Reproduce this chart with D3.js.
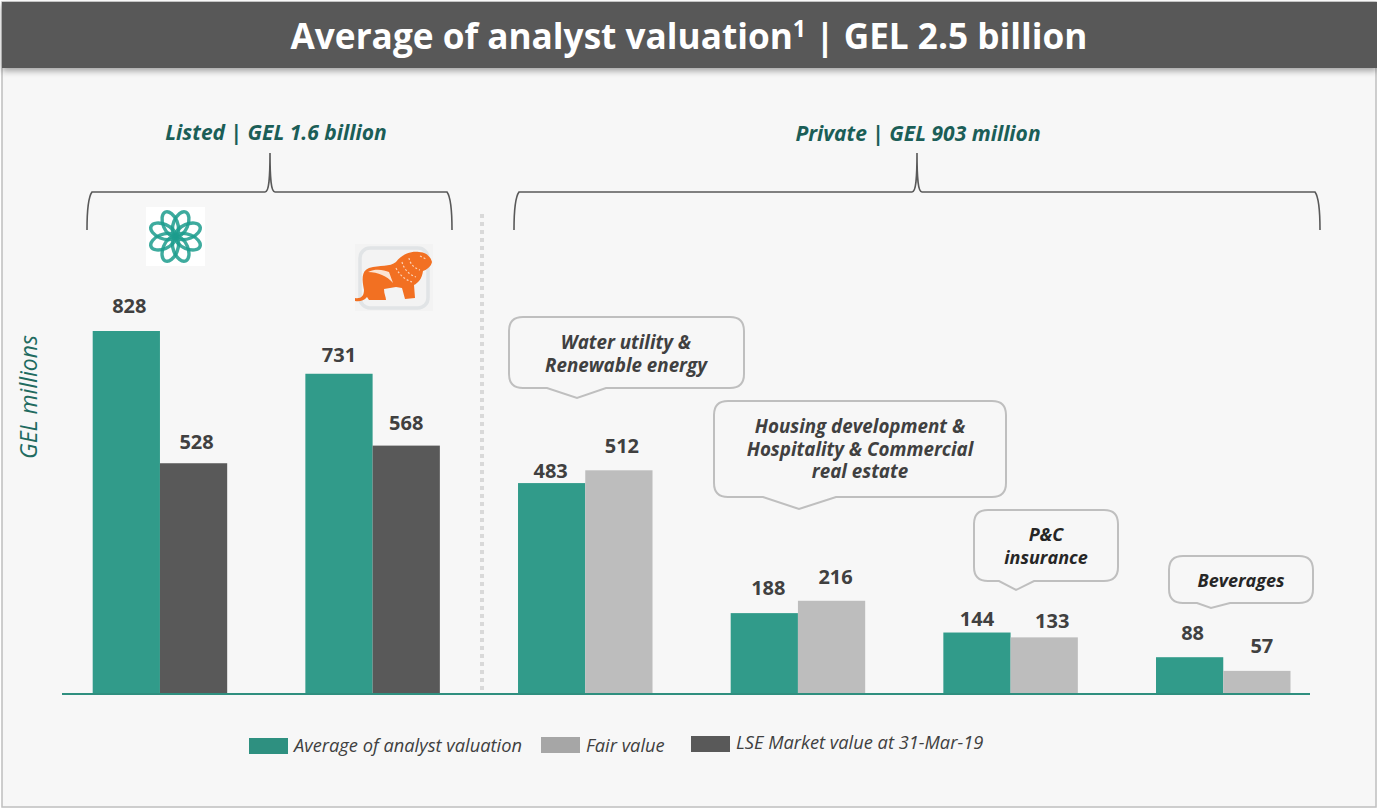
<!DOCTYPE html>
<html>
<head>
<meta charset="utf-8">
<script src="https://cdn.jsdelivr.net/npm/d3@7"></script>
<style>
  html, body { margin: 0; padding: 0; background: #fff; }
  svg { display: block; }
  text { font-family: "Open Sans", sans-serif; }
</style>
</head>
<body>
<div id="chart"></div>
<script>
// data
var categories = ["Listed A", "Listed B", "Water utility", "Housing", "P&C insurance", "Beverages"];
var analystValues = [828, 731, 483, 188, 144, 88];
var otherValues = [528, 568, 512, 216, 133, 57];
var otherSeries = ["market", "market", "fair", "fair", "fair", "fair"];

var legendLabels = ["Average of analyst valuation", "Fair value", "LSE Market value at 31-Mar-19"];

// label nudges, the original labels were placed by hand
var labelDx = [3, 3, 0, 0, -1, 3, 4, 4, 0, 8, 3, 5];
var labelDy = [18, 14, 12, 16, 5, 17, 18, 17, 7, 9, 17, 18];

var width = 1377, height = 809;
var teal = "#319b8a", grey = "#bdbdbd", dark = "#595959", green = "#1b5e57";

var svg = d3.select("#chart").append("svg")
    .attr("width", width)
    .attr("height", height);

var defs = svg.append("defs");
var shadow = defs.append("filter").attr("id", "barShadow")
    .attr("x", "-2%").attr("y", "-20%").attr("width", "104%").attr("height", "160%");
shadow.append("feDropShadow").attr("dx", 0).attr("dy", 3).attr("stdDeviation", 3)
    .attr("flood-color", "#000").attr("flood-opacity", 0.35);
defs.append("filter").attr("id", "soft")
    .append("feGaussianBlur").attr("stdDeviation", 0.7);

// panel
svg.append("rect")
    .attr("x", 2).attr("y", 2)
    .attr("width", 1374).attr("height", 805)
    .attr("fill", "#f7f7f7")
    .attr("stroke", "#bfbfbf")
    .attr("stroke-width", 1.5);

// title bar
svg.append("rect")
    .attr("x", 2).attr("y", 2)
    .attr("width", 1375).attr("height", 66)
    .attr("fill", dark)
    .attr("filter", "url(#barShadow)");

var title = svg.append("text")
    .attr("x", 689).attr("y", 49)
    .attr("text-anchor", "middle")
    .attr("fill", "#fff")
    .style("font-size", "35.2px")
    .style("font-weight", 700);
title.append("tspan").text("Average of analyst valuation");
title.append("tspan").text("1").attr("dy", -12).style("font-size", "23px");
title.append("tspan").text(" | GEL 2.5 billion").attr("dy", 12);

// scales
var x = d3.scaleBand()
    .domain(categories)
    .range([92.7, 1290.5])
    .paddingInner(0.3676);

var xSub = d3.scaleBand()
    .domain([0, 1])
    .range([0, x.bandwidth()]);

var y = d3.scaleLinear()
    .domain([0, 828])
    .range([696, 331]);

var baseY = 694;
var colors = { market: dark, fair: grey };

// flat list for the bars
var bars = [];
categories.forEach(function(c, i) {
    bars.push({ cat: c, sub: 0, value: analystValues[i], color: teal });
    bars.push({ cat: c, sub: 1, value: otherValues[i], color: colors[otherSeries[i]] });
});

// dotted separator
svg.append("line")
    .attr("x1", 482).attr("x2", 482)
    .attr("y1", 214).attr("y2", 692)
    .attr("stroke", "#d9d9d9")
    .attr("stroke-width", 4)
    .attr("stroke-dasharray", "4,4");

// bars
svg.selectAll(".bar")
    .data(bars)
    .enter()
    .append("rect")
      .attr("class", "bar")
      .attr("x", function(d) { return x(d.cat) + xSub(d.sub); })
      .attr("y", function(d) { return y(d.value); })
      .attr("width", xSub.bandwidth())
      .attr("height", function(d) { return baseY - y(d.value); })
      .attr("fill", function(d) { return d.color; });

// value labels
svg.selectAll(".value")
    .data(bars)
    .enter()
    .append("text")
      .attr("class", "value")
      .attr("x", function(d, i) { return x(d.cat) + xSub(d.sub) + xSub.bandwidth() / 2 + labelDx[i]; })
      .attr("y", function(d, i) { return y(d.value) - labelDy[i]; })
      .attr("text-anchor", "middle")
      .attr("fill", "#404040")
      .style("font-size", "20px")
      .style("font-weight", 700)
      .text(function(d) { return d.value; });

// baseline
svg.append("line")
    .attr("x1", 62).attr("x2", 1310)
    .attr("y1", baseY).attr("y2", baseY)
    .attr("stroke", "#2f8f7f")
    .attr("stroke-width", 2);

// y label
svg.append("text")
    .attr("transform", "translate(37,397) rotate(-90)")
    .attr("text-anchor", "middle")
    .attr("fill", "#1f6b60")
    .style("font-size", "23px")
    .style("font-style", "italic")
    .text("GEL millions");

// braces
function brace(x0, tip, x1) {
    var top = 153, mid = 192, end = 230;
    return "M" + x0 + "," + end +
        "C" + x0 + "," + (mid + 14) + " " + (x0 + 2) + "," + (mid + 4) + " " + (x0 + 5) + "," + mid +
        "L" + (tip - 5) + "," + mid +
        "C" + (tip - 1) + "," + mid + " " + tip + "," + (mid - 14) + " " + tip + "," + top +
        "C" + tip + "," + (mid - 14) + " " + (tip + 1) + "," + mid + " " + (tip + 5) + "," + mid +
        "L" + (x1 - 5) + "," + mid +
        "C" + (x1 - 2) + "," + (mid + 4) + " " + x1 + "," + (mid + 14) + " " + x1 + "," + end;
}
[[87, 270, 452], [514, 917, 1320]].forEach(function(b) {
    svg.append("path")
        .attr("d", brace(b[0], b[1], b[2]))
        .attr("fill", "none")
        .attr("stroke", dark)
        .attr("stroke-width", 1.6);
});

svg.append("text").attr("x", 276).attr("y", 140).attr("text-anchor", "middle")
    .attr("fill", green)
    .style("font-size", "21px").style("font-weight", 700).style("font-style", "italic")
    .text("Listed | GEL 1.6 billion");
svg.append("text").attr("x", 918).attr("y", 141).attr("text-anchor", "middle")
    .attr("fill", green)
    .style("font-size", "21px").style("font-weight", 700).style("font-style", "italic")
    .text("Private | GEL 903 million");

// callouts
function callout(x0, y0, x1, y1, t0, tipX, t1, tipY) {
    var r = 14;
    return "M" + (x0 + r) + "," + y0 +
        "L" + (x1 - r) + "," + y0 +
        "Q" + x1 + "," + y0 + " " + x1 + "," + (y0 + r) +
        "L" + x1 + "," + (y1 - r) +
        "Q" + x1 + "," + y1 + " " + (x1 - r) + "," + y1 +
        "L" + t1 + "," + y1 +
        "L" + tipX + "," + tipY +
        "L" + t0 + "," + y1 +
        "L" + (x0 + r) + "," + y1 +
        "Q" + x0 + "," + y1 + " " + x0 + "," + (y1 - r) +
        "L" + x0 + "," + (y0 + r) +
        "Q" + x0 + "," + y0 + " " + (x0 + r) + "," + y0 + "Z";
}
var callouts = [
    { box: [509, 317, 744, 388, 547, 577, 606, 398], lines: ["Water utility &", "Renewable energy"], cx: 626, y: 349, fill: "#404040", size: 18.8 },
    { box: [714, 401, 1006, 497, 763, 799, 836, 509], lines: ["Housing development &", "Hospitality & Commercial", "real estate"], cx: 860, y: 433, fill: "#404040", size: 18.8 },
    { box: [974, 510, 1118, 581, 999, 1016, 1034, 590], lines: ["P&C", "insurance"], cx: 1046, y: 541, fill: "#262626", size: 18 },
    { box: [1169, 556, 1313, 603, 1197, 1211, 1230, 608], lines: ["Beverages"], cx: 1241, y: 587, fill: "#262626", size: 18 }
];
callouts.forEach(function(c) {
    svg.append("path")
        .attr("d", callout.apply(null, c.box))
        .attr("fill", "none")
        .attr("stroke", "#bfbfbf")
        .attr("stroke-width", 2);
    var t = svg.append("text")
        .attr("y", c.y)
        .attr("text-anchor", "middle")
        .attr("fill", c.fill)
        .style("font-size", c.size + "px")
        .style("font-weight", 700)
        .style("font-style", "italic");
    c.lines.forEach(function(l, i) {
        t.append("tspan")
            .attr("x", c.cx)
            .attr("dy", i === 0 ? 0 : 22.5)
            .text(l);
    });
});

// legend
var legendColors = ["#2e9080", "#a6a6a6", dark];
var legendX = [249, 541, 691];
var legendY = [738, 737, 736];
var legendBase = [752, 752, 749];
legendLabels.forEach(function(l, i) {
    svg.append("rect")
        .attr("x", legendX[i]).attr("y", legendY[i])
        .attr("width", 39).attr("height", 16)
        .attr("fill", legendColors[i]);
    svg.append("text")
        .attr("x", legendX[i] + 45).attr("y", legendBase[i])
        .attr("fill", "#404040")
        .style("font-size", "18.3px")
        .style("font-style", "italic")
        .text(l);
});

// company logos, drawn by hand
var flower = svg.append("g").attr("transform", "translate(175.5,236.5)");
flower.append("rect").attr("x", -29.5).attr("y", -29.5).attr("width", 59).attr("height", 59).attr("fill", "#fff");
d3.range(8).forEach(function(i) {
    flower.append("ellipse")
        .attr("cx", 0).attr("cy", -13.5)
        .attr("rx", 7.2).attr("ry", 13)
        .attr("transform", "rotate(" + (22.5 + i * 45) + ")")
        .attr("fill", "none")
        .attr("stroke", "#1c9c8d")
        .attr("stroke-opacity", 0.85)
        .attr("stroke-width", 3.4);
});

var lion = svg.append("g").attr("filter", "url(#soft)");
lion.append("rect").attr("x", 355).attr("y", 244).attr("width", 78).attr("height", 67).attr("fill", "#f3f3f3");
lion.append("rect").attr("x", 360).attr("y", 248).attr("width", 68).attr("height", 60).attr("rx", 10)
    .attr("fill", "none").attr("stroke", "#e1e4e6").attr("stroke-width", 3.5);
lion.append("path")
    .attr("d", "M355,298 C361,299 364,296 364,290 C362,280 361,271 369,268 C380,265 390,267 396,262 C402,254 411,251 419,252 C426,252 431,257 432,262 C431,267 426,270 423,271 C422,279 418,283 414,285 L415,298 L405,299 L402,288 L396,287 L384,289 C384,294 386,297 386,300 L369,300 L367,297 C364,301 359,302 355,301 Z")
    .attr("fill", "#f26f21");
lion.append("path")
    .attr("d", "M368,272 C376,268 384,270 389,272 L393,283 C387,276 378,272 368,272 Z")
    .attr("fill", "#fbe3d3");
lion.append("path")
    .attr("d", "M396,268 C400,276 406,280 412,282 M402,262 C404,270 410,275 416,277 M409,258 C410,264 414,268 420,270 M420,256 L426,259")
    .attr("fill", "none")
    .attr("stroke", "#fbd3b8")
    .attr("stroke-width", 1.2)
    .attr("stroke-dasharray", "2,2");
</script>
</body>
</html>
